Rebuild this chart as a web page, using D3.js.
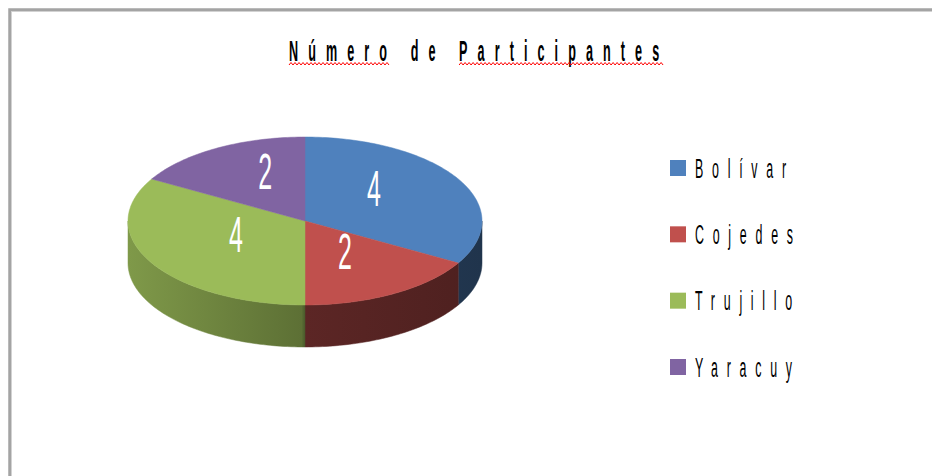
<!DOCTYPE html>
<html>
<head>
<meta charset="utf-8">
<script src="https://cdn.jsdelivr.net/npm/d3@7"></script>
<style>
  html, body { margin: 0; padding: 0; background: #fff; overflow: hidden; }
  svg { display: block; }
</style>
</head>
<body>
<svg id="chart" width="932" height="476"></svg>
<script>
// datos
const categories = ["Bolívar", "Cojedes", "Trujillo", "Yaracuy"];
const values = [4, 2, 4, 2];
const sliceColors = ["#4f81bd", "#c0504d", "#9bbb59", "#8064a2"];
const titleText = "Número de Participantes";
const misspelled = [[0, 5], [10, 22]]; // palabras con subrayado rojo

const svg = d3.select("#chart");
const W = +svg.attr("width"), H = +svg.attr("height");
const font = "'Liberation Sans', Arial, sans-serif";

// marco del gráfico
svg.append("rect")
    .attr("x", 10).attr("y", 10)
    .attr("width", W).attr("height", H)
    .attr("fill", "none")
    .attr("stroke", "#a4a4a4")
    .attr("stroke-width", 3.5);
svg.append("rect")
    .attr("x", 11.5).attr("y", 11.5)
    .attr("width", W).attr("height", H)
    .attr("fill", "none")
    .attr("stroke", "#d2d2d2")
    .attr("stroke-width", 1);

// título
const tX = 289, tY = 61, tS = 0.42, tSpacing = 24;
const titleG = svg.append("g").attr("transform", `translate(${tX},${tY}) scale(${tS},1)`);
const titleNode = titleG.append("text")
    .attr("font-family", font)
    .attr("font-weight", "bold")
    .attr("font-size", 30)
    .attr("letter-spacing", tSpacing)
    .attr("fill", "#000")
    .text(titleText)
    .node();

misspelled.forEach(([i0, i1]) => {
    const e0 = titleNode.getExtentOfChar(i0);
    const e1 = titleNode.getExtentOfChar(i1);
    const x0 = tX + tS * e0.x;
    const x1 = tX + tS * (e1.x + e1.width - tSpacing) + 4;
    const pts = d3.range(x0, x1, 2).map((x, k) => [x, tY + (k % 2 ? 1.5 : 4)]);
    svg.append("path")
        .attr("d", d3.line()(pts))
        .attr("fill", "none")
        .attr("stroke", "#ff0000")
        .attr("stroke-width", 1);
});

// pastel 3D
const pie = { cx: 305, cy: 221, rx: 177, ry: 84, depth: 42 };
const color = d3.scaleOrdinal().domain(categories).range(sliceColors);
const arcs = d3.pie().sort(null).value(d => d.value)(
    categories.map((c, i) => ({ name: c, value: values[i] }))
);

const px = a => pie.cx + pie.rx * Math.sin(a);
const py = a => pie.cy - pie.ry * Math.cos(a);
const arcPts = (a0, a1, dy) => {
    const n = Math.max(2, Math.ceil((a1 - a0) / 0.02));
    return d3.range(n + 1).map(k => {
        const a = a0 + (a1 - a0) * k / n;
        return [px(a), py(a) + dy];
    });
};
const line = d3.line();

// degradados para las caras laterales
const shade = (c, f) => {
    const r = d3.rgb(c);
    return d3.rgb(r.r * f, r.g * f, r.b * f).formatHex();
};
const defs = svg.append("defs");
arcs.forEach((d, i) => {
    const g = defs.append("linearGradient")
        .attr("id", `side-${i}`)
        .attr("gradientUnits", "userSpaceOnUse")
        .attr("x1", pie.cx - pie.rx).attr("x2", pie.cx + pie.rx)
        .attr("y1", 0).attr("y2", 0);
    [[0, 0.82], [0.49, 0.6], [0.5, 0.48], [1, 0.4]].forEach(([o, f]) => {
        g.append("stop").attr("offset", o).attr("stop-color", shade(color(d.data.name), f));
    });
});

// caras laterales (solo mitad frontal)
const sides = arcs.map((d, i) => ({
    i,
    a0: Math.max(d.startAngle, Math.PI / 2),
    a1: Math.min(d.endAngle, 3 * Math.PI / 2)
})).filter(s => s.a1 > s.a0);

svg.append("g").selectAll("path")
    .data(sides)
    .enter()
    .append("path")
    .attr("d", s => line([...arcPts(s.a0, s.a1, 0), ...arcPts(s.a0, s.a1, pie.depth).reverse()]) + "Z")
    .attr("fill", s => `url(#side-${s.i})`)
    .attr("stroke", s => `url(#side-${s.i})`)
    .attr("stroke-width", 0.5);

// caras superiores
svg.append("g").selectAll("path")
    .data(arcs)
    .enter()
    .append("path")
    .attr("d", d => line([[pie.cx, pie.cy], ...arcPts(d.startAngle, d.endAngle, 0)]) + "Z")
    .attr("fill", d => color(d.data.name))
    .attr("stroke", d => color(d.data.name))
    .attr("stroke-width", 0.5);

// etiquetas de valores
svg.append("g").selectAll("text")
    .data(arcs)
    .enter()
    .append("text")
    .attr("transform", d => {
        const m = (d.startAngle + d.endAngle) / 2;
        const x = pie.cx + 0.45 * pie.rx * Math.sin(m);
        const y = pie.cy - 0.55 * pie.ry * Math.cos(m) - 10;
        return `translate(${x},${y}) scale(0.5,1)`;
    })
    .attr("text-anchor", "middle")
    .attr("dy", "0.36em")
    .attr("font-family", font)
    .attr("font-size", 50)
    .attr("fill", "#fff")
    .text(d => d.data.value);

// leyenda
const legendY = d3.scalePoint().domain(categories).range([168, 367]);
const legend = svg.append("g").selectAll("g")
    .data(categories)
    .enter()
    .append("g")
    .attr("transform", d => `translate(670,${legendY(d)})`);

legend.append("rect")
    .attr("x", 0).attr("y", -8)
    .attr("width", 16).attr("height", 16)
    .attr("fill", d => color(d));

legend.append("text")
    .attr("transform", "translate(25,0) scale(0.46,1)")
    .attr("dy", "0.36em")
    .attr("font-family", font)
    .attr("font-size", 27)
    .attr("letter-spacing", 19)
    .attr("fill", "#000")
    .text(d => d);
</script>
</body>
</html>
